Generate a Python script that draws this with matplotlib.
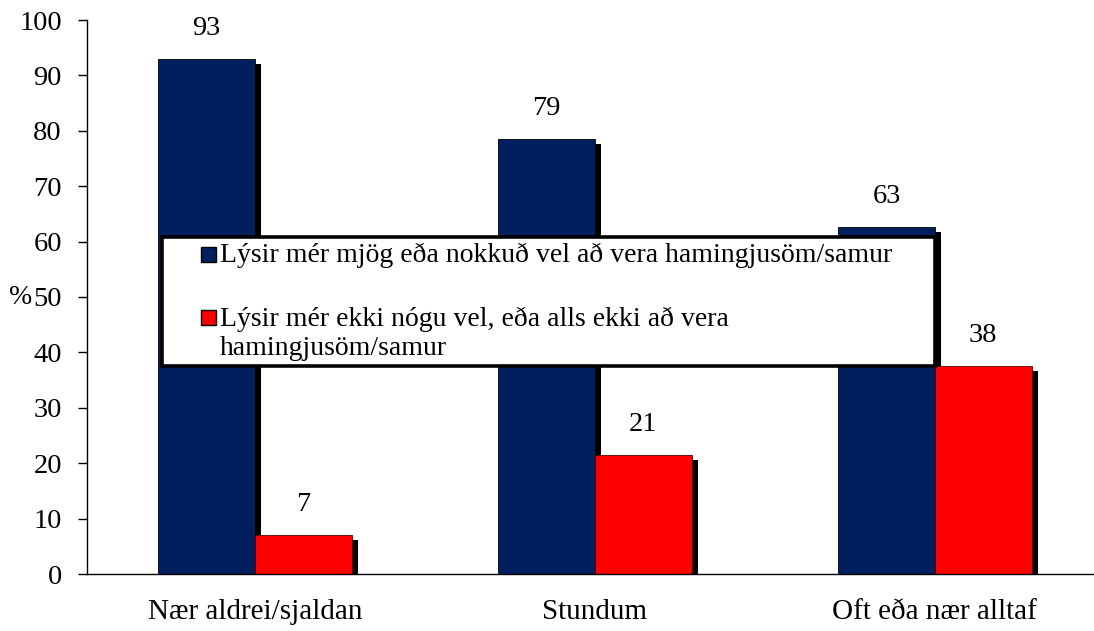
import numpy as np
import matplotlib
matplotlib.use("Agg")
import matplotlib.pyplot as plt
import matplotlib.patheffects as pe
from matplotlib.patches import Rectangle

plt.rcParams['font.family'] = ['Liberation Serif', 'DejaVu Serif']

# data
categories = ['Nær aldrei/sjaldan', 'Stundum', 'Oft eða nær alltaf']
happy = [93.0, 78.6, 62.6]
not_happy = [7.0, 21.4, 37.5]
series_names = ['Lýsir mér mjög eða nokkuð vel að vera hamingjusöm/samur',
                'Lýsir mér ekki nógu vel, eða alls ekki að vera\nhamingjusöm/samur']
colors = ['#001F5F', '#FF0000']

W, H = 1094, 631
fig = plt.figure(figsize=(W / 100, H / 100), dpi=100)
ax = fig.add_axes([87 / W, (H - 574) / H, (1094 - 87) / W, (574 - 20) / H])

x = np.arange(len(categories))
width = 0.285
shadow = [pe.SimplePatchShadow(offset=(4.3, -3.6), shadow_rgbFace='black', alpha=1.0), pe.Normal()]

b1 = ax.bar(x - width / 2, happy, width, color=colors[0], edgecolor='black', linewidth=0.6)
b2 = ax.bar(x + width / 2, not_happy, width, color=colors[1], edgecolor='#600000', linewidth=0.6)
for b in list(b1) + list(b2):
    b.set_path_effects(shadow)

for bars, vals in [(b1, happy), (b2, not_happy)]:
    for bar, v in zip(bars, vals):
        ax.annotate(f'{int(v + 0.5)}', (bar.get_x() + bar.get_width() / 2, v),
                    xytext=(0, 13), textcoords='offset points',
                    ha='center', va='bottom', fontsize=20.5)

ax.set_xlim(-0.494, 2.468)
ax.set_ylim(0, 100)
ax.set_yticks(range(0, 101, 10))
ax.set_xticks(x)
ax.set_xticklabels(categories, fontsize=21)
ax.tick_params(axis='x', length=0, pad=18)
ax.tick_params(axis='y', length=6.5, width=1, pad=11.5, labelsize=20.5, direction='out')
for s in ['top', 'right']:
    ax.spines[s].set_visible(False)
for s in ['left', 'bottom']:
    ax.spines[s].set_linewidth(1.0)

ax.set_ylabel('%', rotation=0, fontsize=20, va='center', ha='center')
ax.yaxis.set_label_coords(-0.066, 0.5)

# legend box, drawn by hand to match the layout
def fx(px):
    return px / W

def fy(py):
    return (H - py) / H

frame = Rectangle((fx(162), fy(366)), fx(935) - fx(162), fy(237) - fy(366),
                  transform=fig.transFigure, facecolor='white', edgecolor='black',
                  linewidth=2.6, zorder=10)
fig.add_artist(frame)
marker_tops = [247, 310]
text_tops = [243, 307]
for c, name, mt, tt in zip(colors, series_names, marker_tops, text_tops):
    m = Rectangle((fx(201), fy(mt + 15)), fx(216) - fx(201), fy(mt) - fy(mt + 15),
                  transform=fig.transFigure, facecolor=c, edgecolor='black',
                  linewidth=1.0, zorder=11)
    fig.add_artist(m)
    fig.text(fx(220), fy(tt), name, ha='left', va='top', fontsize=20,
             linespacing=1.2, zorder=12)

fig.savefig('out.png', dpi=100)
